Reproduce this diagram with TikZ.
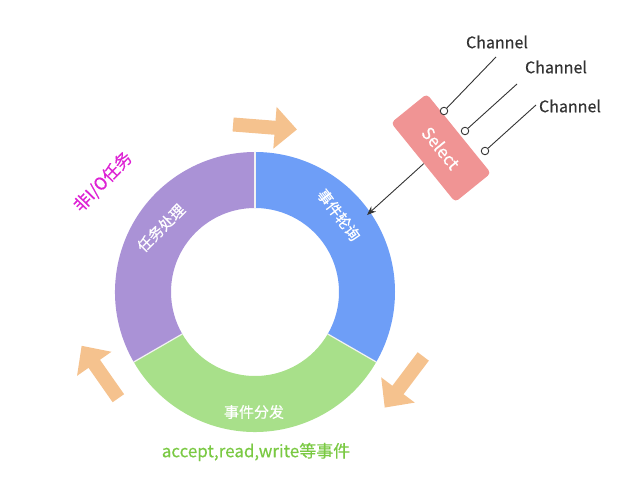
\documentclass[tikz,border=0pt]{standalone}
\usepackage{fontspec}
\setmainfont{Noto Sans CJK SC}[FakeBold=0.4]
\usetikzlibrary{arrows.meta}
\definecolor{segblue}{HTML}{6E9EF7}
\definecolor{segpurple}{HTML}{AA92D6}
\definecolor{seggreen}{HTML}{A8E08A}
\definecolor{arrorange}{HTML}{F5C28E}
\definecolor{selpink}{HTML}{F09494}
\definecolor{txtmagenta}{HTML}{DD22D4}
\definecolor{txtgreen}{HTML}{7AC943}
\definecolor{darkline}{HTML}{333333}
\tikzset{
  seglabel/.style={text=white, font=\fontsize{15}{17}\selectfont, inner sep=0pt},
  fatarrow/.style={fill=arrorange, draw=none},
  chanlabel/.style={text=darkline, font=\fontsize{16}{18}\selectfont, inner sep=0pt},
  chandot/.style={circle, draw=darkline, fill=white, line width=0.9pt, minimum size=7.5pt, inner sep=0pt},
  chanline/.style={draw=darkline, line width=0.9pt},
  selbox/.style={fill=selpink, rounded corners=4pt, minimum width=102pt, minimum height=46pt, text=white, font=\fontsize{17}{19}\selectfont, inner sep=0pt},
  seam/.style={draw=white!90!gray, line width=1.2pt}
}
\begin{document}
\begin{tikzpicture}[x=1pt,y=1pt]
\useasboundingbox (0,0) rectangle (627,498);
% ring
\begin{scope}[shift={(255,206)}]
  \fill[segblue] (90:140) arc[start angle=90, end angle=-30, radius=140pt] -- (-30:84) arc[start angle=-30, end angle=90, radius=84pt] -- cycle;
  \fill[seggreen] (-30:140) arc[start angle=-30, end angle=-150, radius=140pt] -- (-150:84) arc[start angle=-150, end angle=-30, radius=84pt] -- cycle;
  \fill[segpurple] (210:140) arc[start angle=210, end angle=90, radius=140pt] -- (90:84) arc[start angle=90, end angle=210, radius=84pt] -- cycle;
  \draw[seam] (90:84) -- (90:140);
  \draw[seam] (-30:84) -- (-30:140);
  \draw[seam] (210:84) -- (210:140);
\end{scope}
% ring labels
\node[seglabel, rotate=-53] (poll) at (339,283) {事件轮询};
\node[seglabel, rotate=45] (task) at (161,270) {任务处理};
\node[seglabel] (disp) at (254,86) {事件分发};
\node[text=txtmagenta, font=\fontsize{17}{19}\selectfont, rotate=46, inner sep=0pt] (nonio) at (103,316) {非I/O任务};
\node[text=txtgreen, font=\fontsize{17}{19}\selectfont, inner sep=0pt] (events) at (256,46) {accept,read,write等事件};
% fat arrows
\fill[fatarrow, shift={(265,371)}, rotate=-4.5] (-32,-7) -- (10,-7) -- (10,-21) -- (32,0) -- (10,21) -- (10,7) -- (-32,7) -- cycle;
\fill[fatarrow, shift={(404,116)}, rotate=233] (-32,-7) -- (10,-7) -- (10,-21) -- (32,0) -- (10,21) -- (10,7) -- (-32,7) -- cycle;
\fill[fatarrow, shift={(100,126)}, rotate=125] (-32,-7) -- (10,-7) -- (10,-21) -- (32,0) -- (10,21) -- (10,7) -- (-32,7) -- cycle;
% select
\coordinate (tip) at (367,283);
\node[selbox, rotate=-51] (sel) at (441,350) {Select};
\draw[darkline, line width=0.9pt, -{Stealth[length=9pt,width=7pt]}] (sel) -- (tip);
% channels
\node[chanlabel] (c1) at (497,456) {Channel};
\node[chanlabel] (c2) at (556,431) {Channel};
\node[chanlabel] (c3) at (570,392) {Channel};
\coordinate (e1) at (496,441);
\coordinate (e2) at (517,414);
\coordinate (e3) at (536,393);
\node[chandot] (d1) at (444,387) {};
\node[chandot] (d2) at (465,367) {};
\node[chandot] (d3) at (485,347) {};
\draw[chanline] (d1) -- (e1);
\draw[chanline] (d2) -- (e2);
\draw[chanline] (d3) -- (e3);
\end{tikzpicture}
\end{document}
